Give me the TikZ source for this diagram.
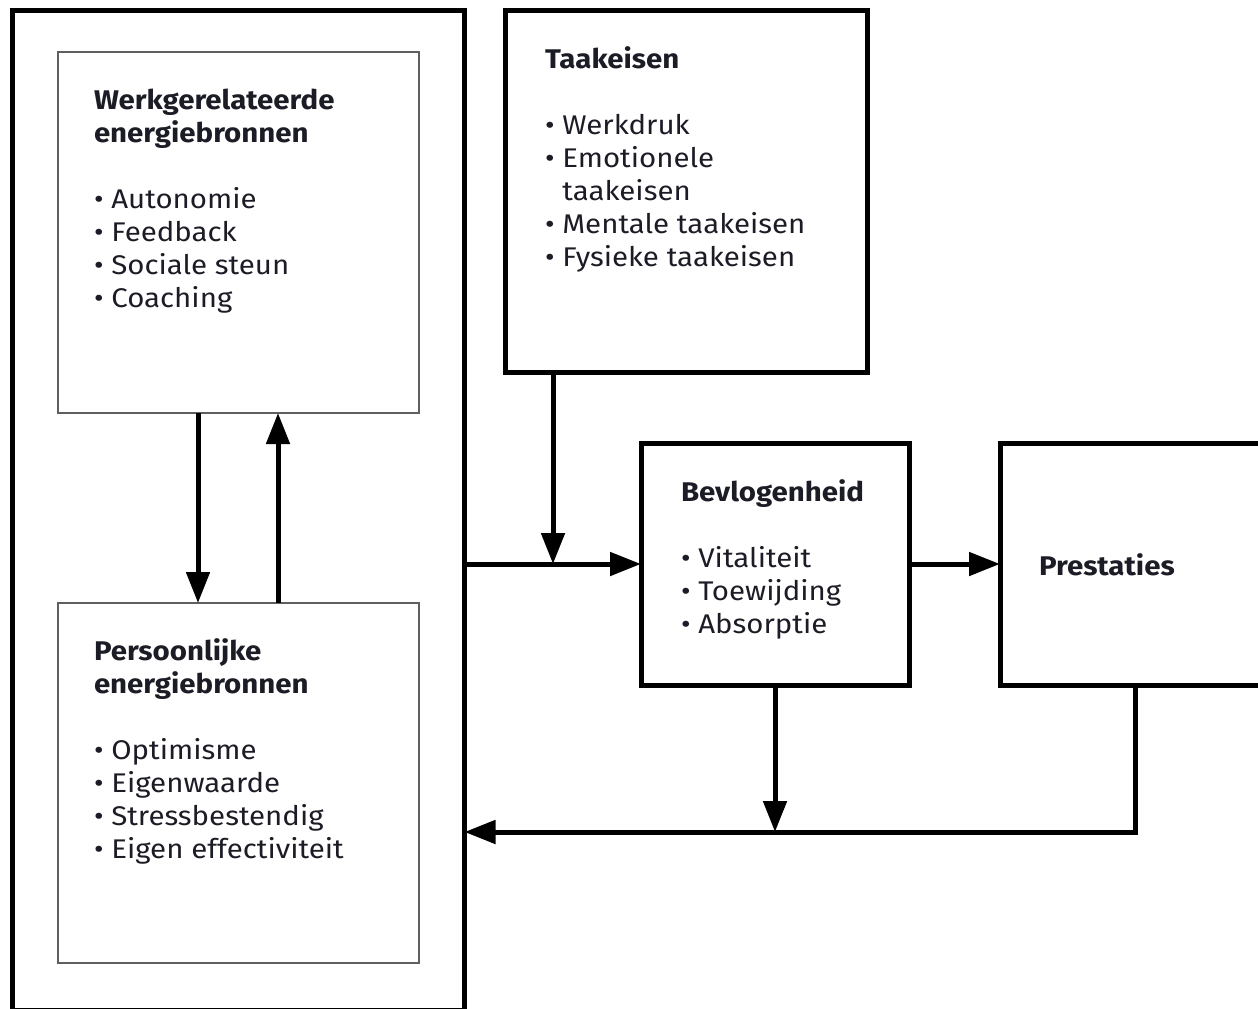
\documentclass[tikz,border=0pt]{standalone}
\usepackage{fontspec}
\setmainfont[FakeStretch=1.09]{Fira Sans}
\usetikzlibrary{arrows.meta}
\definecolor{txtc}{RGB}{28,28,38}
\definecolor{thinc}{RGB}{95,95,95}
\begin{document}
\begin{tikzpicture}[x=1pt,y=-1pt,
  thickbox/.style={draw=black,line width=5pt,inner sep=0pt,outer sep=0pt},
  thinbox/.style={draw=thinc,line width=1.6pt,inner sep=0pt,outer sep=0pt},
  txt/.style={anchor=base west,inner sep=0pt,outer sep=0pt,text=txtc,
    font=\fontsize{27}{33}\selectfont},
  arr/.style={line width=5pt,-{Triangle[length=31pt,width=23pt]}},
  ln/.style={line width=5pt}]
\useasboundingbox (0,0) rectangle (1258,1009);
% boxes
\node[thickbox,minimum width=452pt,minimum height=1000pt] (outer) at (238.5,510) {};
\node[thinbox,minimum width=361pt,minimum height=361pt] (werk) at (238.5,232.5) {};
\node[thinbox,minimum width=361pt,minimum height=360pt] (pers) at (238.5,783) {};
\node[thickbox,minimum width=362pt,minimum height=362pt] (taak) at (686,191) {};
\node[thickbox,minimum width=268pt,minimum height=242pt] (bev) at (775,564) {};
\node[thickbox,minimum width=262pt,minimum height=242pt] (pres) at (1131,564) {};
% texts
\node[txt] (twerk) at (94,109) {\parbox[t]{320pt}{\textbf{Werkgerelateerde}\\\textbf{energiebronnen}\\[33pt]• Autonomie\\• Feedback\\• Sociale steun\\• Coaching}};
\node[txt] (tpers) at (94,660) {\parbox[t]{320pt}{\textbf{Persoonlijke}\\\textbf{energiebronnen}\\[33pt]• Optimisme\\• Eigenwaarde\\• Stressbestendig\\• Eigen effectiviteit}};
\node[txt] (ttaak) at (545,68) {\parbox[t]{310pt}{\textbf{Taakeisen}\\[33pt]• Werkdruk\\• Emotionele\\\phantom{•} taakeisen\\• Mentale taakeisen\\• Fysieke taakeisen}};
\node[txt] (tbev) at (681,501) {\parbox[t]{220pt}{\textbf{Bevlogenheid}\\[33pt]• Vitaliteit\\• Toewijding\\• Absorptie}};
\node[txt] (tpres) at (1039,575) {\textbf{Prestaties}};
% connectors
\coordinate (j1) at (553,564);
\coordinate (fb) at (1135,832);
\draw[arr] (werk.south -| 198,0) -- (pers.north -| 198,0);
\draw[arr] (pers.north -| 278,0) -- (werk.south -| 278,0);
\draw[arr] (outer.east |- bev.west) -- (bev.west);
\draw[arr] (taak.south -| j1) -- (j1);
\draw[arr] (bev.east) -- (pres.west);
\draw[arr] (bev.south) -- (bev.south |- fb);
\draw[arr] (pres.south -| fb) -- (fb) -- (outer.east |- fb);
\end{tikzpicture}
\end{document}
